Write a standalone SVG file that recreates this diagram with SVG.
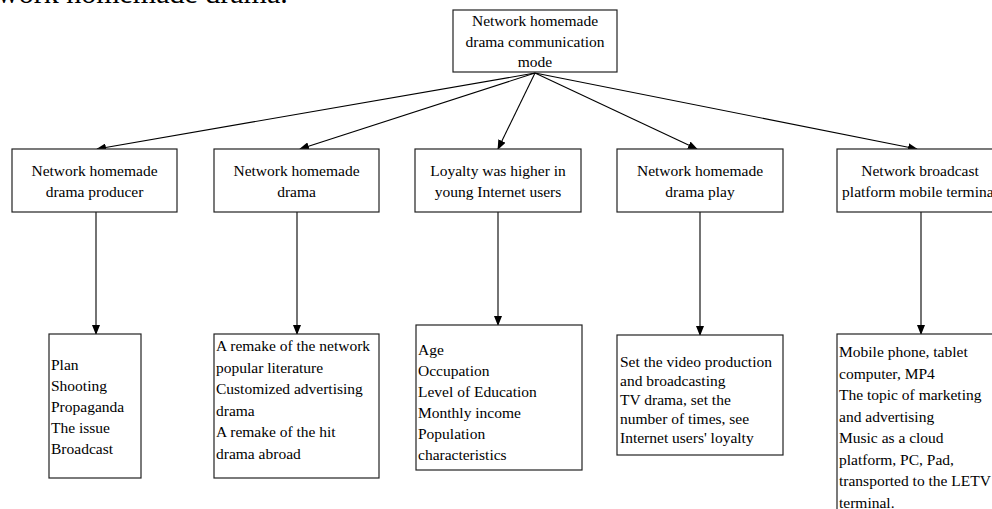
<svg xmlns="http://www.w3.org/2000/svg" width="992" height="509" viewBox="0 0 992 509">
<defs>
<marker id="ah" markerWidth="10" markerHeight="8" refX="9" refY="4" orient="auto" markerUnits="userSpaceOnUse">
<path d="M0,0 L10,4 L0,8 z" fill="#000"/>
</marker>
<style>
.box{fill:#fff;stroke:#222;stroke-width:1.2}
.t{font-family:"Liberation Serif","Times New Roman",serif;font-size:15.5px;fill:#000}
.c{text-anchor:middle}
.edge{stroke:#000;stroke-width:1.1;fill:none;marker-end:url(#ah)}
</style>
</defs>
<rect width="992" height="509" fill="#fff"/>
<text class="t" x="-3" y="3" style="font-size:30px">work homemade drama.</text>
<g id="connectors">
<line class="edge" x1="535" y1="73" x2="97" y2="149"/>
<line class="edge" x1="535" y1="73" x2="300" y2="149"/>
<line class="edge" x1="535" y1="73" x2="498" y2="149"/>
<line class="edge" x1="535" y1="73" x2="697" y2="149"/>
<line class="edge" x1="535" y1="73" x2="917" y2="149"/>
<line class="edge" x1="96" y1="212" x2="96" y2="334"/>
<line class="edge" x1="297" y1="212" x2="297" y2="334"/>
<line class="edge" x1="498" y1="212" x2="498" y2="325"/>
<line class="edge" x1="700" y1="212" x2="700" y2="335"/>
<line class="edge" x1="921" y1="212" x2="921" y2="334"/>
</g>
<g id="root">
<rect class="box" x="453" y="10" width="164" height="62"/>
<text class="t c" x="535" y="26">Network homemade</text>
<text class="t c" x="535" y="47">drama communication</text>
<text class="t c" x="535" y="67">mode</text>
</g>
<g id="producer">
<rect class="box" x="12" y="149" width="165" height="63"/>
<text class="t c" x="94.5" y="176">Network homemade</text>
<text class="t c" x="94.5" y="197">drama producer</text>
</g>
<g id="drama">
<rect class="box" x="214" y="149" width="165" height="63"/>
<text class="t c" x="296.5" y="176">Network homemade</text>
<text class="t c" x="296.5" y="197">drama</text>
</g>
<g id="loyalty">
<rect class="box" x="415" y="149" width="166" height="63"/>
<text class="t c" x="498" y="176">Loyalty was higher in</text>
<text class="t c" x="498" y="197">young Internet users</text>
</g>
<g id="play">
<rect class="box" x="617" y="149" width="166" height="63"/>
<text class="t c" x="700" y="176">Network homemade</text>
<text class="t c" x="700" y="197">drama play</text>
</g>
<g id="platform">
<rect class="box" x="837" y="149" width="166" height="63"/>
<text class="t c" x="920" y="176">Network broadcast</text>
<text class="t c" x="920" y="197">platform mobile terminal</text>
</g>
<g id="producer-detail">
<rect class="box" x="49" y="334" width="92" height="144"/>
<text class="t" x="51" y="370">Plan</text>
<text class="t" x="51" y="391">Shooting</text>
<text class="t" x="51" y="412">Propaganda</text>
<text class="t" x="51" y="433">The issue</text>
<text class="t" x="51" y="454">Broadcast</text>
</g>
<g id="drama-detail">
<rect class="box" x="214" y="334" width="165" height="144"/>
<text class="t" x="216" y="351">A remake of the network</text>
<text class="t" x="216" y="372.5">popular literature</text>
<text class="t" x="216" y="394">Customized advertising</text>
<text class="t" x="216" y="415.5">drama</text>
<text class="t" x="216" y="437">A remake of the hit</text>
<text class="t" x="216" y="458.5">drama abroad</text>
</g>
<g id="loyalty-detail">
<rect class="box" x="416" y="325" width="166" height="145"/>
<text class="t" x="418" y="355">Age</text>
<text class="t" x="418" y="376">Occupation</text>
<text class="t" x="418" y="397">Level of Education</text>
<text class="t" x="418" y="418">Monthly income</text>
<text class="t" x="418" y="439">Population</text>
<text class="t" x="418" y="460">characteristics</text>
</g>
<g id="play-detail">
<rect class="box" x="617" y="335" width="166" height="120"/>
<text class="t" x="620" y="367">Set the video production</text>
<text class="t" x="620" y="386">and broadcasting</text>
<text class="t" x="620" y="405">TV drama, set the</text>
<text class="t" x="620" y="424">number of times, see</text>
<text class="t" x="620" y="443">Internet users' loyalty</text>
</g>
<g id="platform-detail">
<rect class="box" x="837" y="334" width="166" height="190"/>
<text class="t" x="839" y="357">Mobile phone, tablet</text>
<text class="t" x="839" y="378.5">computer, MP4</text>
<text class="t" x="839" y="400">The topic of marketing</text>
<text class="t" x="839" y="421.5">and advertising</text>
<text class="t" x="839" y="443">Music as a cloud</text>
<text class="t" x="839" y="464.5">platform, PC, Pad,</text>
<text class="t" x="839" y="486">transported to the LETV</text>
<text class="t" x="839" y="507.5">terminal.</text>
</g>
</svg>
